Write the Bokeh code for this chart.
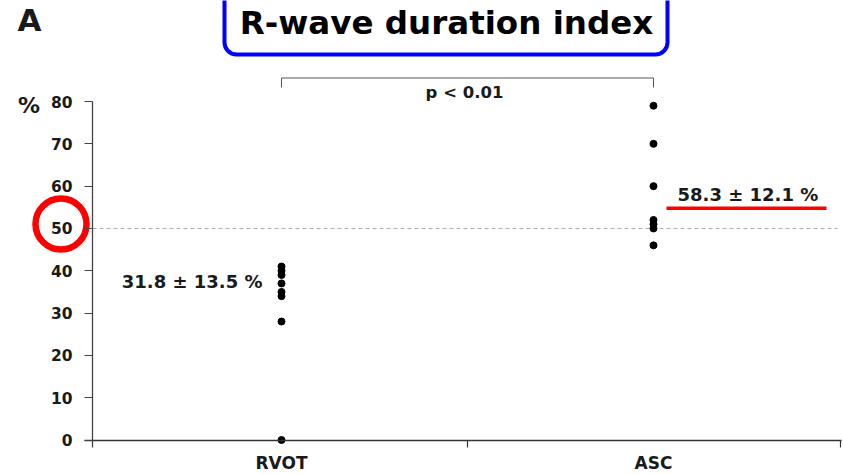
from bokeh.plotting import figure
from bokeh.models import Range1d, FixedTicker, Label, BoxAnnotation
from bokeh.embed import file_html
from bokeh.resources import INLINE

# ---- data ----
categories = ["RVOT", "ASC"]
rvot_values = [41, 40, 39, 37, 35, 34, 28, 0]
asc_values = [79, 70, 60, 52, 51, 50, 46]
y_ticks = [0, 10, 20, 30, 40, 50, 60, 70, 80]
rvot_summary = "31.8 ± 13.5 %"
asc_summary = "58.3 ± 12.1 %"
p_text = "p < 0.01"
threshold = 50
title_text = "R-wave duration index"
panel_letter = "A"
unit_label = "%"

FONT = "DejaVu Sans"
TXT = "#1a1a1a"
W, H = 843, 474


# pixel -> data helpers for placing annotations (frame fills the canvas)
def dx(px):
    return (px - 281) / 372.0


def dy(py):
    return (439.5 - py) / 4.231


def mid(baseline_px, size_px):
    # label anchored at text middle: baseline minus half (ascent - descent)
    return dy(baseline_px - 0.346 * size_px)


X0, X1 = dx(0), dx(W)
Y0, Y1 = dy(H), dy(0)

p = figure(width=W, height=H, output_backend="svg", toolbar_location=None,
           x_range=Range1d(X0, X1), y_range=Range1d(Y0, Y1),
           min_border_left=0, min_border_right=0, min_border_top=0,
           min_border_bottom=0)
p.outline_line_color = None
p.grid.visible = False
p.background_fill_color = "white"
p.border_fill_color = "white"

# y axis
ya = p.yaxis[0]
ya.fixed_location = dx(92)
ya.ticker = FixedTicker(ticks=y_ticks)
ya.bounds = (dy(447), max(y_ticks))
ya.axis_line_color = "#444444"
ya.axis_line_width = 1.3
ya.major_tick_out = 8
ya.major_tick_in = 0
ya.major_tick_line_color = "#444444"
ya.minor_tick_out = 0
ya.minor_tick_in = 0
ya.major_label_standoff = 12
ya.major_label_text_font = FONT
ya.major_label_text_font_style = "bold"
ya.major_label_text_font_size = "15.5px"
ya.major_label_text_color = TXT

# x axis (category labels) on the zero line
xa = p.xaxis[0]
xa.fixed_location = 0
xa.ticker = FixedTicker(ticks=list(range(len(categories))))
xa.major_label_overrides = {i: c for i, c in enumerate(categories)}
xa.bounds = (dx(84), dx(841))
xa.axis_line_color = "#333333"
xa.axis_line_width = 1.4
xa.major_tick_out = 0
xa.major_tick_in = 0
xa.minor_tick_out = 0
xa.minor_tick_in = 0
xa.major_label_standoff = 13
xa.major_label_text_font = FONT
xa.major_label_text_font_style = "bold"
xa.major_label_text_font_size = "17px"
xa.major_label_text_color = TXT

# threshold line
p.segment(x0=[dx(92)], y0=[threshold], x1=[dx(837)], y1=[threshold],
          line_color="#aaaaaa", line_width=1, line_dash="4 3")

# x-axis boundary ticks (between and after the categories)
p.segment(x0=[0.5, dx(840)], y0=[0, 0], x1=[0.5, dx(840)], y1=[dy(447), dy(447)],
          line_color="#333333", line_width=1.2)

# points
p.scatter(x=[0] * len(rvot_values), y=rvot_values, size=7, color="black")
p.scatter(x=[1] * len(asc_values), y=asc_values, size=7, color="black")

# significance bracket
p.line(x=[0, 0, 1, 1], y=[dy(87), dy(77.5), dy(77.5), dy(87)],
       line_color="#555555", line_width=1)
p.add_layout(Label(x=dx(464), y=mid(98, 16.5), text=p_text, text_align="center",
                   text_baseline="middle", text_font=FONT, text_font_style="bold",
                   text_font_size="16.5px", text_color=TXT))

# summary texts
p.add_layout(Label(x=dx(262), y=mid(287.7, 18), text=rvot_summary, text_align="right",
                   text_baseline="middle", text_font=FONT, text_font_style="bold",
                   text_font_size="18px", text_color=TXT))
p.add_layout(Label(x=dx(677), y=mid(200, 18), text=asc_summary, text_align="left",
                   text_baseline="middle", text_font=FONT, text_font_style="bold",
                   text_font_size="18px", text_color=TXT))
p.segment(x0=[dx(666)], y0=[dy(207.75)], x1=[dx(826)], y1=[dy(207.75)],
          line_color="#ff0000", line_width=3.5)

# unit and panel letter
p.add_layout(Label(x=dx(28.5), y=mid(113, 22), text=unit_label, text_align="center",
                   text_baseline="middle", text_font=FONT, text_font_style="bold",
                   text_font_size="22px", text_color=TXT))
p.add_layout(Label(x=dx(17), y=mid(30, 31), text=panel_letter, text_align="left",
                   text_baseline="middle", text_font=FONT, text_font_style="bold",
                   text_font_size="31px", text_color=TXT))

# red circle around the 50 tick label
p.scatter(x=[dx(60.5)], y=[dy(223.5)], marker="circle", size=51,
          fill_color=None, line_color="#ff0000", line_width=6.5)

# title in a blue rounded box
p.add_layout(BoxAnnotation(left=dx(224), right=dx(667), bottom=dy(54), top=dy(-30),
                           fill_alpha=0, line_color="#0000ff", line_width=4,
                           line_alpha=1, border_radius=12))
p.add_layout(Label(x=dx(446), y=mid(34, 32.5), text=title_text, text_align="center",
                   text_baseline="middle", text_font=FONT, text_font_style="bold",
                   text_font_size="32.5px", text_color="black"))

open("out.html", "w").write(file_html(p, INLINE))
